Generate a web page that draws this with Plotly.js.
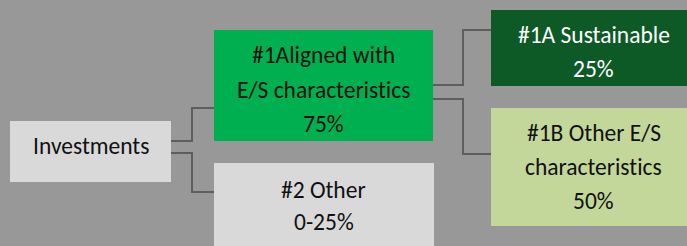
<!DOCTYPE html>
<html>
<head>
<meta charset="utf-8">
<script src="https://cdn.plot.ly/plotly-3.0.1.min.js"></script>
<style>
html,body{margin:0;padding:0;background:#989898;}
#chart{width:687px;height:246px;}
text{font-variant-ligatures:none !important;font-feature-settings:"liga" 0, "clig" 0 !important;}
</style>
</head>
<body>
<div id="chart"></div>
<script>
// ---- data ----
const nodeNames = ["Investments", "#1Aligned with E/S characteristics", "#2 Other", "#1A Sustainable", "#1B Other E/S characteristics"];
const nodeLines = [["Investments"], ["#1Aligned with", "E/S characteristics"], ["#2 Other"], ["#1A Sustainable"], ["#1B Other E/S", "characteristics"]];
const nodeShares = ["", "75%", "0-25%", "25%", "50%"];
const links = [[0, 1], [0, 2], [1, 3], [1, 4]];

// ---- layout (positions / styles) ----
const boxes = [
  [10, 171, 121, 182],
  [214, 433, 30, 141],
  [214, 434, 163, 250],
  [491, 700, 10, 86],
  [491, 700, 108, 226]
];
const textCenters = [[91, 146], [323.5, 89.5], [323.5, 205.5], [593.5, 52], [593.5, 166.5]];
const lineGaps = [34, 34.5, 32, 34.5, 34];
const fills = ["#d9d9d9", "#00b050", "#d9d9d9", "#0e5a27", "#c4d79b"];
const textColors = ["#111", "#111", "#111", "#fff", "#111"];
// elbow connectors: [xStart, yStart, xMid, yEnd, xEnd]
const elbows = [
  [171, 141, 192, 108, 214],
  [171, 153, 192, 192, 214],
  [433, 85, 463, 30, 491],
  [433, 99, 463, 154, 491]
];
const fontFamily = "Carlito, Lato, 'Open Sans', sans-serif";
const fontSize = 23.5;

const shapes = [];
const annotations = [];
links.forEach((lk, i) => {
  const e = elbows[i];
  shapes.push({type: "path", xref: "x", yref: "y",
    path: `M${e[0]},${e[1]} L${e[2]},${e[1]} L${e[2]},${e[3]} L${e[4]},${e[3]}`,
    line: {color: "#5e5e5e", width: 2}});
});
nodeNames.forEach((n, i) => {
  const b = boxes[i];
  shapes.push({type: "rect", xref: "x", yref: "y", x0: b[0], x1: b[1], y0: b[2], y1: b[3],
    fillcolor: fills[i], line: {width: 0}, layer: "above"});
  const lines = nodeLines[i].slice();
  if (nodeShares[i]) lines.push(nodeShares[i]);
  const [cx, cy] = textCenters[i];
  const y0 = cy - (lines.length - 1) * lineGaps[i] / 2;
  lines.forEach((t, j) => {
    annotations.push({x: cx, y: y0 + j * lineGaps[i], xref: "x", yref: "y", text: t, showarrow: false,
      xanchor: "center", yanchor: "middle",
      font: {family: fontFamily, size: fontSize, color: textColors[i]}});
  });
});

Plotly.newPlot("chart", [{x: [], y: [], type: "scatter", mode: "markers", hoverinfo: "skip"}], {
  width: 687, height: 246,
  margin: {l: 0, r: 0, t: 0, b: 0},
  paper_bgcolor: "#989898", plot_bgcolor: "#989898",
  xaxis: {range: [0, 687], visible: false, fixedrange: true},
  yaxis: {range: [246, 0], visible: false, fixedrange: true},
  showlegend: false,
  shapes: shapes,
  annotations: annotations
}, {staticPlot: true, displayModeBar: false});
</script>
</body>
</html>
